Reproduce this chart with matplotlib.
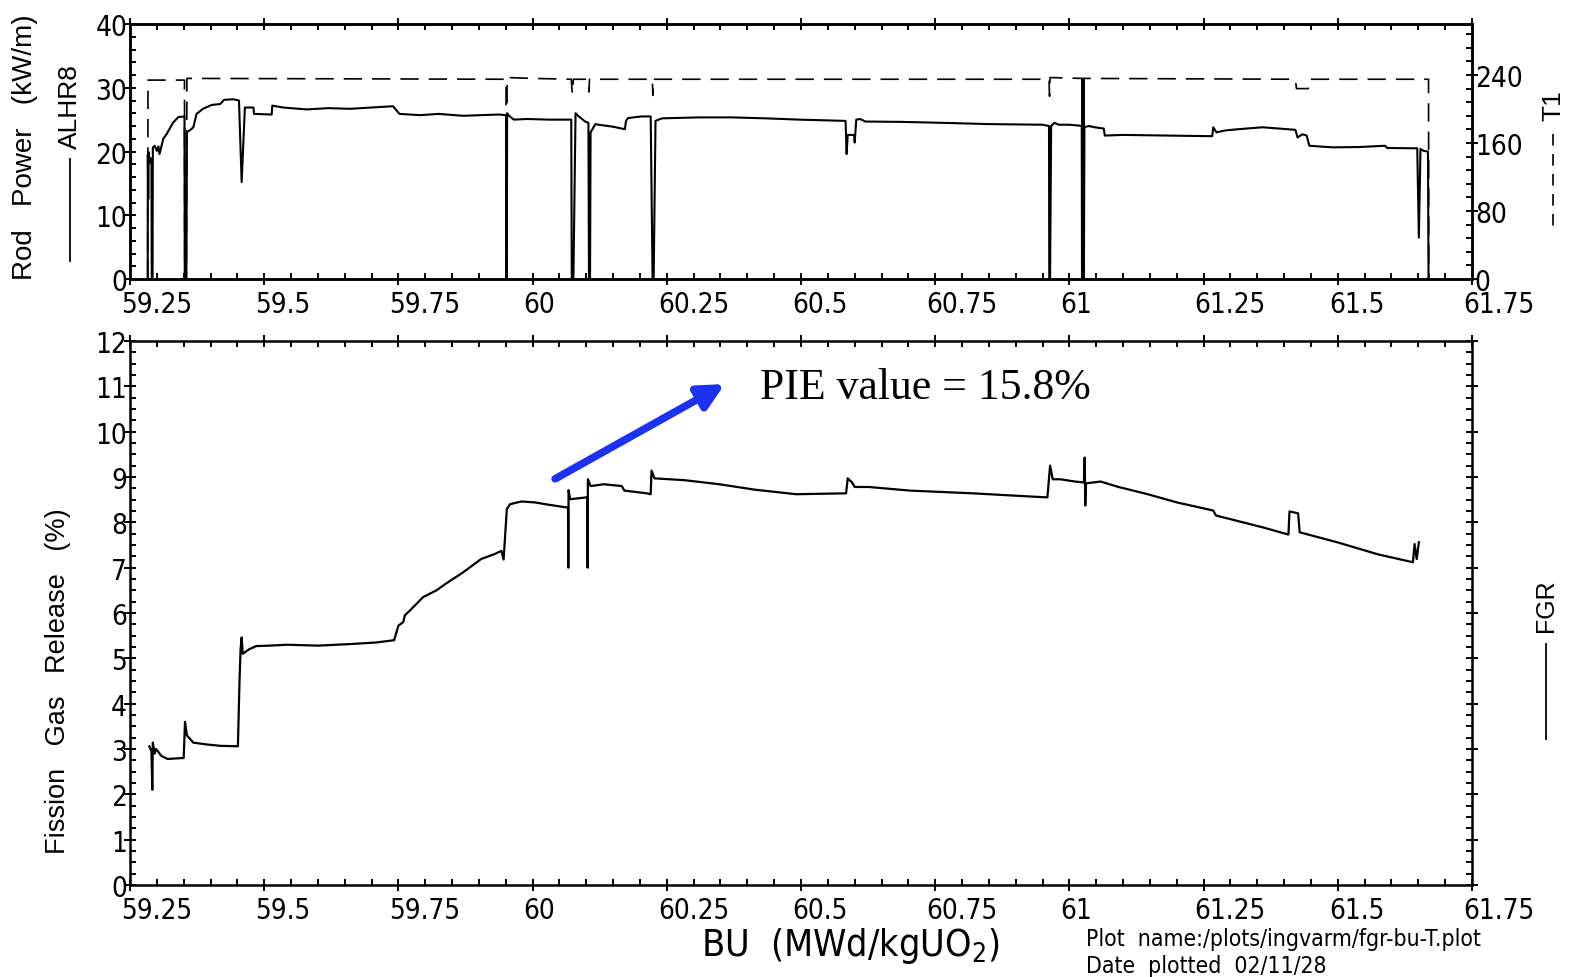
import numpy as np
import matplotlib
matplotlib.use("Agg")
import matplotlib.pyplot as plt
from matplotlib.ticker import MultipleLocator, FixedLocator, FuncFormatter
from matplotlib.transforms import ScaledTranslation
from matplotlib.lines import Line2D

plt.rcParams['font.family'] = 'DejaVu Sans'
plt.rcParams['font.stretch'] = 'condensed'

# ---- rod power ALHR8 (kW/m) vs burnup ----
bu_alhr = [59.2830, 59.2832, 59.2840, 59.2848, 59.2860, 59.2880, 59.2900, 59.2905, 59.2920, 59.2925,
           59.2960, 59.3000, 59.3030, 59.3050, 59.3120, 59.3180, 59.3300, 59.3400, 59.3515, 59.3520,
           59.3550, 59.3560, 59.3640, 59.3680, 59.3740, 59.3860, 59.4020, 59.4180, 59.4250, 59.4420,
           59.4530, 59.4580, 59.4640, 59.4800, 59.4810, 59.5140, 59.5150, 59.5350, 59.5790, 59.6200,
           59.6600, 59.7000, 59.7400, 59.7520, 59.7900, 59.8250, 59.8700, 59.9370, 59.9505, 59.9510,
           59.9520, 59.9525, 59.9560, 59.9650, 59.9900, 60.0300, 60.0720, 60.0730, 60.0760, 60.0800,
           60.0860, 60.0980, 60.1040, 60.1050, 60.1070, 60.1080, 60.1170, 60.1230, 60.1490, 60.1720,
           60.1740, 60.1780, 60.2030, 60.2200, 60.2235, 60.2255, 60.2290, 60.2410, 60.3100, 60.3720,
           60.4340, 60.4970, 60.5830, 60.5850, 60.5870, 60.5990, 60.6000, 60.6030, 60.6100, 60.6200,
           60.6850, 60.7620, 60.8500, 60.9500, 60.9620, 60.9625, 60.9640, 60.9660, 60.9720, 60.9800,
           61.0000, 61.0190, 61.0230, 61.0235, 61.0245, 61.0255, 61.0262, 61.0270, 61.0280, 61.0360,
           61.0470, 61.0640, 61.0660, 61.1000, 61.1900, 61.2660, 61.2680, 61.2740, 61.2900, 61.3150,
           61.3600, 61.4210, 61.4250, 61.4340, 61.4420, 61.4470, 61.4900, 61.5400, 61.5880, 61.5920,
           61.6480, 61.6510, 61.6540, 61.6600, 61.6680, 61.6690]
alhr8 = [0.0, 19.5, 12.5, 19.9, 18.3, 19.0, 18.0, 0.0, 0.0, 20.6,
         20.9, 20.1, 20.8, 19.6, 22.0, 22.7, 24.5, 25.4, 25.5, 0.0,
         0.0, 23.0, 23.5, 23.8, 25.9, 26.7, 27.3, 27.45, 28.1, 28.2,
         28.0, 15.2, 26.9, 26.9, 25.9, 25.8, 27.2, 26.9, 26.6, 26.8,
         26.7, 26.9, 27.1, 25.9, 25.7, 25.9, 25.6, 25.8, 25.7, 0.0,
         0.0, 26.0, 25.6, 25.0, 25.1, 25.0, 25.0, 0.0, 0.0, 26.0,
         25.5, 24.7, 24.5, 0.0, 0.0, 23.0, 24.3, 24.2, 23.9, 23.5,
         24.8, 25.25, 25.5, 25.5, 0.0, 0.0, 24.8, 25.2, 25.35, 25.35,
         25.2, 25.0, 24.8, 19.6, 22.6, 22.6, 21.4, 25.0, 25.1, 24.7,
         24.65, 24.5, 24.3, 24.2, 24.0, 0.0, 0.0, 24.0, 24.5, 24.2,
         24.2, 24.05, 24.0, 0.0, 31.4, 0.0, 31.4, 0.0, 23.8, 24.0,
         23.8, 23.6, 22.5, 22.6, 22.5, 22.4, 23.8, 23.0, 23.3, 23.5,
         23.8, 23.4, 22.2, 22.7, 22.5, 20.9, 20.65, 20.7, 20.9, 20.55,
         20.5, 6.5, 20.4, 20.1, 20.0, 0.0]

# ---- T1 (right axis) ----
bu_t1 = [59.2830, 59.2835, 59.3515, 59.3520, 59.3550, 59.3560, 59.9505, 59.9510, 59.9520, 59.9525,
         60.0000, 60.0720, 60.0740, 60.0760, 60.1040, 60.1050, 60.1060, 60.2230, 60.2240, 60.2250,
         60.9620, 60.9630, 60.9640, 61.0230, 61.4210, 61.4230, 61.4450, 61.4470, 61.6690, 61.6695]
t1 = [0, 234, 234, 0, 0, 236, 235, 0, 0, 237,
      236, 235, 218, 235, 235, 220, 235, 235, 216, 235,
      235, 215, 237, 236, 235, 224, 224, 235, 235, 0]

# ---- fission gas release (%) ----
bu_fgr = [59.2860, 59.2900, 59.2915, 59.2925, 59.2960, 59.2980, 59.3020, 59.3080, 59.3200, 59.3460,
          59.3500, 59.3525, 59.3560, 59.3680, 59.3930, 59.4180, 59.4510, 59.4540, 59.4560, 59.4580,
          59.4600, 59.4720, 59.4850, 59.5100, 59.5430, 59.6010, 59.6680, 59.7090, 59.7420, 59.7500,
          59.7590, 59.7620, 59.7710, 59.7960, 59.8210, 59.8375, 59.8710, 59.9040, 59.9290, 59.9420,
          59.9460, 59.9520, 59.9580, 59.9790, 60.0040, 60.0290, 60.0625, 60.0660, 60.0665, 60.0670,
          60.0700, 60.1000, 60.1020, 60.1025, 60.1030, 60.1080, 60.1330, 60.1660, 60.1710, 60.2125,
          60.2200, 60.2215, 60.2270, 60.2830, 60.3480, 60.4140, 60.4910, 60.5840, 60.5870, 60.5950,
          60.6000, 60.6260, 60.7030, 60.8200, 60.8960, 60.9590, 60.9640, 60.9690, 60.9830, 61.0100,
          61.0270, 61.0285, 61.0295, 61.0310, 61.0580, 61.0915, 61.1460, 61.2000, 61.2680, 61.2730,
          61.3000, 61.3600, 61.4080, 61.4100, 61.4260, 61.4290, 61.4990, 61.5760, 61.6400, 61.6430,
          61.6470, 61.6510]
fgr = [3.06, 2.95, 2.10, 3.14, 2.90, 3.00, 2.95, 2.85, 2.78, 2.80,
       2.80, 3.60, 3.30, 3.14, 3.10, 3.07, 3.06, 4.50, 5.20, 5.46,
       5.10, 5.20, 5.27, 5.28, 5.30, 5.28, 5.32, 5.35, 5.40, 5.72,
       5.80, 5.95, 6.05, 6.35, 6.50, 6.64, 6.90, 7.19, 7.30, 7.37,
       7.18, 8.29, 8.40, 8.46, 8.44, 8.39, 8.33, 8.33, 7.00, 8.71,
       8.51, 8.55, 8.55, 7.00, 8.95, 8.80, 8.84, 8.80, 8.70, 8.64,
       8.62, 9.14, 8.97, 8.93, 8.84, 8.72, 8.62, 8.64, 8.97, 8.88,
       8.78, 8.78, 8.70, 8.64, 8.59, 8.55, 9.25, 8.95, 8.95, 8.90,
       8.88, 9.43, 8.37, 8.86, 8.90, 8.78, 8.62, 8.44, 8.26, 8.15,
       8.07, 7.89, 7.73, 8.24, 8.20, 7.78, 7.56, 7.29, 7.12, 7.52,
       7.19, 7.56]

bu_ticks = [59.25, 59.5, 59.75, 60, 60.25, 60.5, 60.75, 61, 61.25, 61.5, 61.75]
t1_ticks = [0, 80, 160, 240]
pie_text = "PIE value = 15.8%"

W, H = 1571, 978
fig = plt.figure(figsize=(W / 100, H / 100), dpi=100)

ax1 = fig.add_axes([130 / W, 1 - 280 / H, 1342 / W, 255 / H])
ax2 = fig.add_axes([130 / W, 1 - 886 / H, 1342 / W, 544 / H])
ax1r = ax1.twinx()

lw_sp = 1.8
tick_fs = 20
xshift = ScaledTranslation(-9 / 100, 0, fig.dpi_scale_trans)


def style_axes(ax):
    for s in ax.spines.values():
        s.set_linewidth(lw_sp)
    ax.tick_params(which='major', direction='inout', length=9, width=1.4,
                   labelsize=tick_fs, pad=-1)
    ax.tick_params(which='minor', direction='in', length=4.5, width=1.4)


for ax in (ax1, ax2):
    ax.set_xlim(59.25, 61.75)
    ax.xaxis.set_major_locator(FixedLocator(bu_ticks))
    ax.xaxis.set_minor_locator(MultipleLocator(0.05))
    ax.xaxis.set_major_formatter(FuncFormatter(lambda v, p: '{:g}'.format(round(v, 2))))
    style_axes(ax)
    ax.tick_params(axis='x', which='both', top=True, pad=3.5)
    ax.tick_params(axis='y', pad=-2.5)

style_axes(ax1r)
ax1r.tick_params(axis='y', pad=-2.5)

ax1.set_ylim(0, 40)
ax1.yaxis.set_major_locator(MultipleLocator(10))
ax1.yaxis.set_minor_locator(MultipleLocator(2))
ax1.tick_params(axis='y', which='both', right=False)

ax1r.set_ylim(0, 300)
ax1r.yaxis.set_major_locator(FixedLocator(t1_ticks))
ax1r.yaxis.set_minor_locator(MultipleLocator(16))

ax2.set_ylim(0, 12)
ax2.yaxis.set_major_locator(MultipleLocator(1))
ax2.yaxis.set_minor_locator(MultipleLocator(0.25))
ax2.tick_params(axis='y', which='both', right=True, labelright=False)

fig.canvas.draw()
for ax in (ax1, ax2):
    for lbl in ax.get_xticklabels():
        lbl.set_horizontalalignment('left')
        lbl.set_transform(lbl.get_transform() + xshift)

# curves
ax1.plot(bu_alhr, alhr8, color='black', lw=1.5)
ax1r.plot(bu_t1, t1, color='black', lw=1.2, linestyle=(0, (11, 6)))
ax2.plot(bu_fgr, fgr, color='black', lw=1.6)

# arrow + PIE note
ax2.annotate('', xy=(60.358, 11.05), xytext=(60.042, 8.96),
             arrowprops=dict(arrowstyle='-|>', color='#1c32f0', lw=5.5,
                             mutation_scale=38, shrinkA=0, shrinkB=0))
ax2.text(60.424, 10.99, pie_text, family='Liberation Serif', stretch='normal',
         fontsize=31.5, va='center', ha='left')

# axis titles
side = dict(family='Liberation Sans', stretch='normal', rotation=90,
            ha='center', va='center')
fig.text(25 / W, 1 - 147 / H, 'Rod   Power   (kW/m)', fontsize=20, **side)
fig.text(70 / W, 1 - 107 / H, 'ALHR8', fontsize=19, **side)
fig.add_artist(Line2D([70 / W, 70 / W], [1 - 160 / H, 1 - 262 / H], color='black', lw=1.3))

fig.text(58 / W, 1 - 681 / H, 'Fission   Gas   Release   (%)', fontsize=19.5, **side)

fig.text(1553 / W, 1 - 106 / H, 'T1', fontsize=19, **side)
fig.add_artist(Line2D([1553 / W, 1553 / W], [1 - 135 / H, 1 - 230 / H], color='black',
                      lw=1.2, linestyle=(0, (7, 5))))
fig.text(1546 / W, 1 - 606 / H, 'FGR', fontsize=18, **side)
fig.add_artist(Line2D([1546 / W, 1546 / W], [1 - 645 / H, 1 - 740 / H], color='black', lw=1.3))

fig.text(850 / W, 1 - 946 / H, 'BU  (MWd/kgUO$_2$)', fontsize=27, ha='center', va='center')
fig.text(1086 / W, 1 - 940 / H, 'Plot  name:/plots/ingvarm/fgr-bu-T.plot', fontsize=16.5,
         ha='left', va='center')
fig.text(1086 / W, 1 - 967 / H, 'Date  plotted  02/11/28', fontsize=16.5,
         ha='left', va='center')

fig.savefig('out.png', dpi=100, facecolor='white')
